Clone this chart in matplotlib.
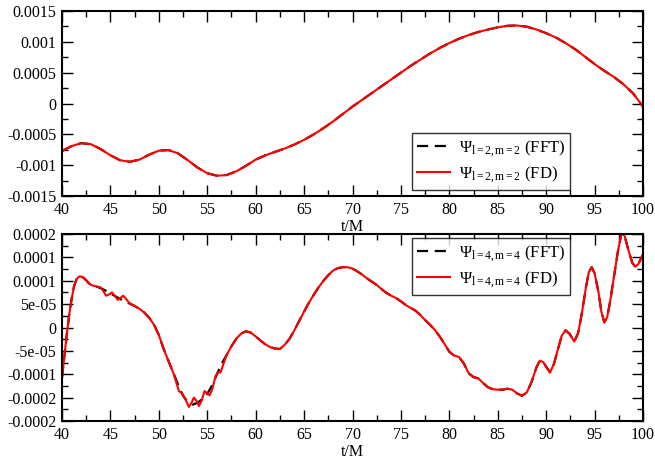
import numpy as np
import matplotlib
matplotlib.use("Agg")
import matplotlib.pyplot as plt
from matplotlib.ticker import MultipleLocator

plt.rcParams['font.family'] = ['Liberation Serif', 'DejaVu Serif']
plt.rcParams['mathtext.fontset'] = 'custom'
plt.rcParams['mathtext.rm'] = 'Liberation Serif'
plt.rcParams['mathtext.it'] = 'Liberation Serif:italic'

# ---------------- data ----------------
# top panel: l=2, m=2 (values in units of 1e-3)
t22 = [40, 41, 42, 43, 44, 45, 46, 47, 48, 49, 50, 51, 52, 53, 54, 55, 56, 57, 58, 59,
       60, 61, 62, 63, 64, 65, 66, 67, 68, 69, 70, 71, 72, 73, 74, 75, 76, 77, 78, 79,
       80, 81, 82, 83, 84, 85, 86, 87, 88, 89, 90, 91, 92, 93, 94, 95, 96, 97, 98, 99, 100]
psi22 = [-0.77, -0.69, -0.643, -0.66, -0.74, -0.84, -0.92, -0.945, -0.91, -0.83,
         -0.765, -0.755, -0.81, -0.92, -1.04, -1.13, -1.172, -1.16, -1.10, -1.01,
         -0.91, -0.84, -0.785, -0.73, -0.665, -0.59, -0.50, -0.40, -0.29, -0.17,
         -0.05, 0.06, 0.17, 0.28, 0.39, 0.50, 0.61, 0.71, 0.81, 0.90,
         0.98, 1.05, 1.11, 1.16, 1.20, 1.235, 1.26, 1.265, 1.245, 1.20,
         1.14, 1.07, 0.98, 0.88, 0.76, 0.64, 0.53, 0.43, 0.31, 0.16, -0.05]

# bottom panel: l=4, m=4 FFT (values in units of 1e-5)
t44 = [40.0, 40.25, 40.5, 40.75, 41.0, 41.25, 41.5, 41.75, 42.0, 42.25, 42.5, 42.75,
       43.0, 43.5, 44.0, 44.5, 45.0, 45.5, 46.0, 46.5, 47.0, 47.5, 48.0, 48.5, 49.0,
       49.5, 50.0, 50.5, 51.0, 51.5, 52.0, 52.5, 53.0, 53.5, 54.0, 54.5, 55.0, 55.5,
       56.0, 56.5, 57.0, 57.5, 58.0, 58.5, 59.0, 59.5, 60.0, 60.5, 61.0, 61.5, 62.0,
       62.5, 63.0, 63.5, 64.0, 64.5, 65.0, 65.5, 66.0, 66.5, 67.0, 67.5, 68.0, 68.5,
       69.0, 69.5, 70.0, 70.5, 71.0, 71.5, 72.0, 72.5, 73.0, 73.5, 74.0, 74.5, 75.0,
       75.5, 76.0, 76.5, 77.0, 77.5, 78.0, 78.5, 79.0, 79.5, 80.0, 80.5, 81.0, 81.5,
       82.0, 82.5, 83.0, 83.5, 84.0, 84.5, 85.0, 85.5, 86.0, 86.5, 87.0, 87.5, 88.0,
       88.5, 89.0, 89.35, 89.7, 90.0, 90.4, 90.8, 91.2, 91.6, 92.0, 92.4, 92.9, 93.3,
       93.7, 94.1, 94.4, 94.7, 95.0, 95.4, 95.7, 96.0, 96.3, 96.6, 97.0, 97.4, 97.8,
       98.1, 98.5, 98.9, 99.2, 99.5, 100.0]
psi44_fft = [-10.8, -6.0, -1.4, 2.8, 6.2, 8.9, 10.3, 10.9, 10.9, 10.6, 10.1, 9.5,
             9.1, 8.8, 8.4, 7.9, 7.3, 6.7, 6.1, 5.6, 5.1, 4.6, 4.0, 3.2, 2.1,
             0.6, -1.6, -4.6, -7.2, -9.7, -12.3, -14.6, -16.0, -16.5, -16.1, -15.3, -14.2, -12.4,
             -10.0, -7.7, -5.9, -4.0, -2.4, -1.3, -0.8, -1.1, -1.9, -2.8, -3.6, -4.2, -4.5,
             -4.6, -3.7, -2.4, -0.6, 1.4, 3.4, 5.3, 7.0, 8.6, 10.0, 11.2, 12.2, 12.7,
             12.9, 12.9, 12.6, 12.0, 11.3, 10.5, 9.8, 9.1, 8.2, 7.4, 6.8, 6.3, 5.6,
             4.8, 4.2, 3.6, 2.7, 1.6, 0.6, -0.5, -1.9, -3.5, -5.2, -6.0, -6.3, -7.7,
             -9.8, -10.6, -10.9, -11.9, -12.8, -13.2, -13.3, -13.3, -13.1, -13.3, -14.1, -14.6, -13.9,
             -11.6, -8.5, -7.1, -7.4, -8.4, -9.6, -7.8, -4.8, -1.8, -0.6, -1.3, -3.0, -1.2,
             3.2, 8.5, 11.8, 12.9, 11.6, 7.6, 3.4, 1.1, 2.2, 5.5, 10.8, 16.2, 20.3,
             19.6, 16.5, 13.8, 13.0, 13.5, 15.6]

# bottom panel: FD wiggles where it departs from FFT (units of 1e-5)
t44_fd_seg = [43.5, 43.97, 44.24, 44.55, 44.9, 45.17, 45.45, 45.76, 46.03, 46.31, 46.62,
              46.97, 47.5, 48.0, 48.5, 49.0, 49.5, 50.0, 50.5, 51.0, 51.55, 52.07, 52.41,
              52.76, 53.1, 53.38, 53.62, 53.9, 54.14, 54.41, 54.72, 55.0, 55.24, 55.52,
              55.86, 56.1, 56.38, 56.72, 57.0]
psi44_fd_seg = [8.8, 8.6, 7.9, 6.8, 7.1, 7.5, 6.8, 5.9, 6.3, 6.8, 6.1,
                5.2, 4.6, 4.0, 3.2, 2.1, 0.6, -1.6, -4.6, -7.2, -10.0, -13.6, -14.1,
                -15.4, -17.0, -16.1, -15.0, -15.7, -16.8, -15.7, -13.6, -14.1, -14.5, -13.2,
                -10.4, -9.6, -9.6, -7.5, -5.9]

top_yticks = [-0.0015, -0.001, -0.0005, 0, 0.0005, 0.001, 0.0015]
top_yticklabels = ['-0.0015', '-0.001', '-0.0005', '0', '0.0005', '0.001', '0.0015']
bot_yticks = [-0.0002, -0.00015, -0.0001, -0.00005, 0, 0.00005, 0.0001, 0.00015, 0.0002]
bot_yticklabels = ['-0.0002', '-0.0002', '-0.0001', '-5e-05', '0', '5e-05', '0.0001', '0.0001', '0.0002']
xticks = [40, 45, 50, 55, 60, 65, 70, 75, 80, 85, 90, 95, 100]

labels_top = [r'$\Psi_{\mathrm{l{=}2,m{=}2}}$ (FFT)', r'$\Psi_{\mathrm{l{=}2,m{=}2}}$ (FD)']
labels_bot = [r'$\Psi_{\mathrm{l{=}4,m{=}4}}$ (FFT)', r'$\Psi_{\mathrm{l{=}4,m{=}4}}$ (FD)']

# ---------------- build ----------------
t22a = np.array(t22)
p22 = np.array(psi22) * 1e-3
t44a = np.array(t44)
p44 = np.array(psi44_fft) * 1e-5
seg_t = np.array(t44_fd_seg)
seg_v = np.array(psi44_fd_seg) * 1e-5
m0 = t44a < seg_t[0]
m1 = t44a > seg_t[-1]
t44_fd = np.concatenate([t44a[m0], seg_t, t44a[m1]])
p44_fd = np.concatenate([p44[m0], seg_v, p44[m1]])

fig = plt.figure(figsize=(6.55, 4.62), dpi=100)
W, H = 655, 462
ax1 = fig.add_axes([62 / W, 1 - 196 / H, 581 / W, 185 / H])
ax2 = fig.add_axes([62 / W, 1 - 421 / H, 581 / W, 187 / H])

fs = 11.5
for ax in (ax1, ax2):
    ax.set_xlim(40, 100)
    ax.set_xticks(xticks)
    ax.set_xticklabels([str(x) for x in xticks])
    ax.xaxis.set_minor_locator(MultipleLocator(2.5))
    ax.tick_params(which='both', direction='in', top=True, right=True, labelsize=fs, width=1.0)
    ax.tick_params(which='major', length=8, pad=4)
    ax.tick_params(which='minor', length=4.5)
    for sp in ax.spines.values():
        sp.set_linewidth(1.5)
    ax.set_xlabel('t/M', fontsize=fs, labelpad=1)

ax1.set_ylim(-0.0015, 0.0015)
ax1.set_yticks(top_yticks)
ax1.set_yticklabels(top_yticklabels)
ax1.yaxis.set_minor_locator(MultipleLocator(0.00025))
ax2.set_ylim(-0.0002, 0.0002)
ax2.set_yticks(bot_yticks)
ax2.set_yticklabels(bot_yticklabels)
ax2.yaxis.set_minor_locator(MultipleLocator(0.000025))

ax1.plot(t22a, p22, color='black', lw=1.6, dashes=(5, 3), label=labels_top[0])
ax1.plot(t22a, p22, color='#ff0000', lw=1.5, label=labels_top[1])
ax2.plot(t44a, p44, color='black', lw=1.6, dashes=(5, 3), label=labels_bot[0])
ax2.plot(t44_fd, p44_fd, color='#ff0000', lw=1.5, label=labels_bot[1])

leg_kw = dict(loc='upper left', fontsize=12, frameon=True, fancybox=False,
              edgecolor='black', borderaxespad=0, handlelength=1.95,
              borderpad=0.3, labelspacing=0.3, handletextpad=0.55)
l1 = ax1.legend(bbox_to_anchor=((412 - 62) / 581, (196 - 133) / 185), **leg_kw)
l2 = ax2.legend(bbox_to_anchor=((412 - 62) / 581, (421 - 238) / 187), **leg_kw)
for lg in (l1, l2):
    lg.get_frame().set_linewidth(1.0)

fig.savefig('out.png', dpi=100)
